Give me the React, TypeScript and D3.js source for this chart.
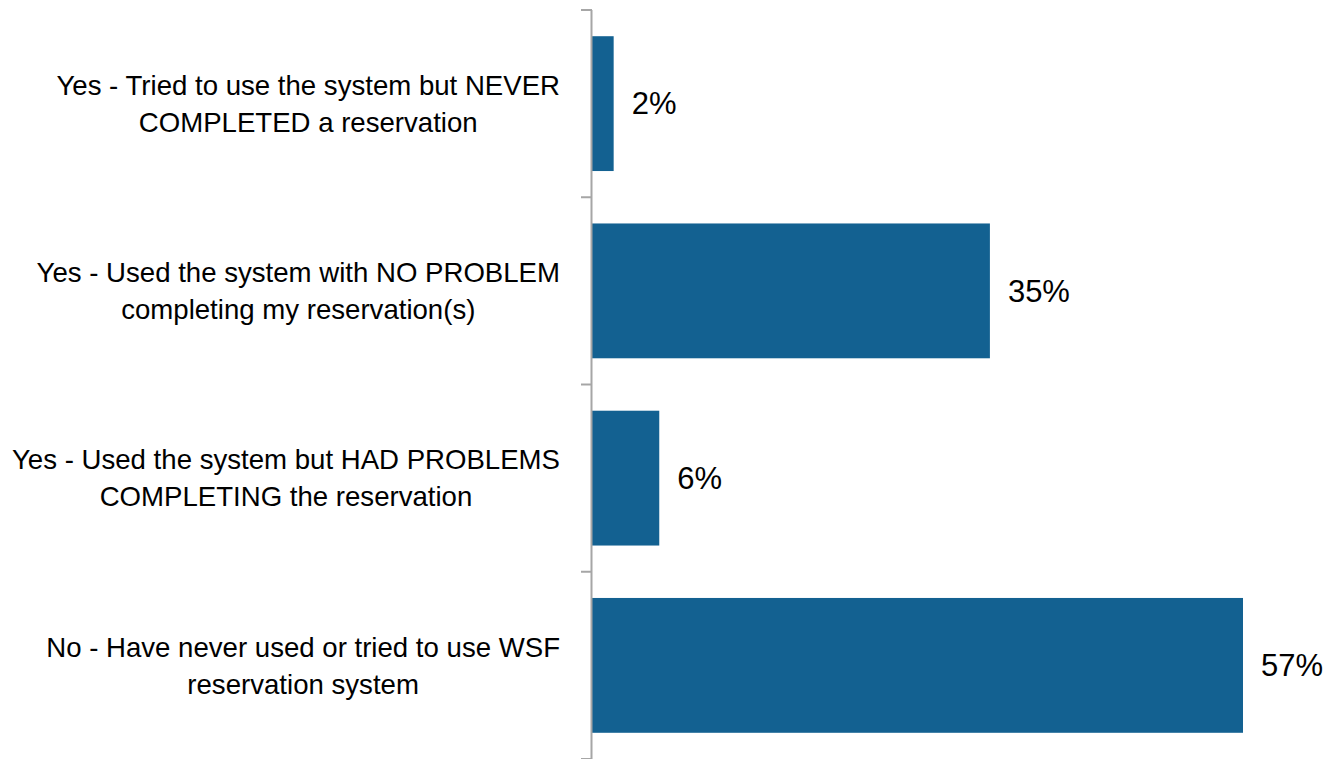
import * as d3 from 'd3';
import React, { useEffect, useRef } from 'react';

const categories = [
  ['Yes - Tried to use the system but NEVER', 'COMPLETED a reservation'],
  ['Yes - Used the system with NO PROBLEM', 'completing my reservation(s)'],
  ['Yes - Used the system but HAD PROBLEMS', 'COMPLETING the reservation'],
  ['No - Have never used or tried to use WSF', 'reservation system'],
];
const values = [1.9, 34.9, 5.9, 57.1];
const valueLabels = ['2%', '35%', '6%', '57%'];

const W = 1326;
const H = 759;

const App = () => {
  const ref = useRef<SVGSVGElement>(null);

  useEffect(() => {
    const svg = d3.select(ref.current);
    svg.selectAll('*').remove();

    const axisX = 592;
    const labelRight = 560;
    const font = '"Liberation Sans", Arial, sans-serif';

    const yScale = d3
      .scaleBand<number>()
      .domain(categories.map((_, i) => i))
      .range([10, 759])
      .paddingInner(0.28)
      .paddingOuter(0.14);
    const xScale = d3.scaleLinear().domain([0, 57.1]).range([axisX, 1243]);

    // bars
    svg
      .selectAll('rect.bar')
      .data(values)
      .enter()
      .append('rect')
      .attr('class', 'bar')
      .attr('x', axisX)
      .attr('y', (_, i) => yScale(i))
      .attr('width', d => xScale(d) - axisX)
      .attr('height', yScale.bandwidth())
      .attr('fill', '#136191');

    // axis line + ticks between categories
    svg
      .append('line')
      .attr('x1', axisX - 0.5)
      .attr('x2', axisX - 0.5)
      .attr('y1', 10)
      .attr('y2', 759)
      .attr('stroke', '#a6a6a6')
      .attr('stroke-width', 2);
    const step = yScale.step();
    d3.range(5).forEach(k => {
      const y = 10 + k * step;
      svg
        .append('line')
        .attr('x1', axisX - 11)
        .attr('x2', axisX)
        .attr('y1', y)
        .attr('y2', y)
        .attr('stroke', '#a6a6a6')
        .attr('stroke-width', 2);
    });

    // category labels: block of lines centered, longest line right aligned at labelRight
    const lineH = 37;
    categories.forEach((lines, i) => {
      const cy = yScale(i) + yScale.bandwidth() / 2;
      const g = svg.append('g');
      const texts = lines.map((line, j) =>
        g
          .append('text')
          .attr('y', cy + (j - (lines.length - 1) / 2) * lineH)
          .attr('dy', '0.35em')
          .attr('text-anchor', 'middle')
          .attr('font-family', font)
          .attr('font-size', 27.6)
          .attr('fill', '#000')
          .text(line)
      );
      const maxW = d3.max(texts, t => (t.node() as SVGTextElement).getComputedTextLength()) || 0;
      texts.forEach(t => t.attr('x', labelRight - maxW / 2));
    });

    // value labels
    svg
      .selectAll('text.val')
      .data(values)
      .enter()
      .append('text')
      .attr('class', 'val')
      .attr('x', d => xScale(d) + 18)
      .attr('y', (_, i) => yScale(i) + yScale.bandwidth() / 2)
      .attr('dy', '0.35em')
      .attr('font-family', font)
      .attr('font-size', 31)
      .attr('fill', '#000')
      .text((_, i) => valueLabels[i]);
  }, []);

  return (
    <svg
      ref={ref}
      width={W}
      height={H}
      style={{ position: 'absolute', left: 0, top: 0, background: '#fff' }}
    />
  );
};

export default App;
